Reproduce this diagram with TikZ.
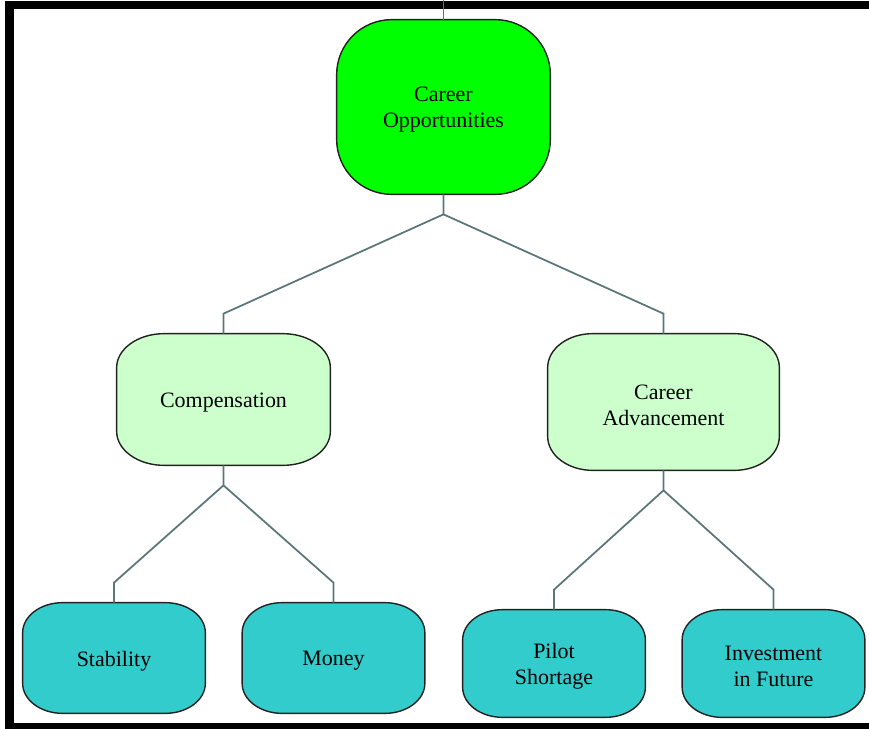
\documentclass[tikz,border=0pt]{standalone}
\usepackage{fontspec}
\setmainfont{Liberation Serif}
\usetikzlibrary{shapes,calc,backgrounds}
\definecolor{topgreen}{HTML}{00FF00}
\definecolor{midgreen}{HTML}{CCFFCC}
\definecolor{leafteal}{HTML}{33CCCC}
\definecolor{linkgray}{HTML}{5B7676}
\definecolor{edgeblack}{HTML}{222222}
% lower a line of text a little, keeping its box
\newcommand{\dn}[1]{\raisebox{-0.06cm}[\height][\depth]{#1}}
% box with elliptic corners round node #1: x radius #2, y radius #3, fill #4
\newcommand{\ovalbox}[4]{%
  \filldraw[draw=edgeblack,line width=0.8pt,fill=#4]
    ($(#1.north west)+(#2,0)$) -- ($(#1.north east)+(-#2,0)$)
    arc[start angle=90,end angle=0,x radius=#2,y radius=#3]
    -- ($(#1.south east)+(0,#3)$)
    arc[start angle=0,end angle=-90,x radius=#2,y radius=#3]
    -- ($(#1.south west)+(#2,0)$)
    arc[start angle=270,end angle=180,x radius=#2,y radius=#3]
    -- ($(#1.north west)+(0,-#3)$)
    arc[start angle=180,end angle=90,x radius=#2,y radius=#3] -- cycle;}

\begin{document}
\begin{tikzpicture}[
  box/.style={rectangle,align=center,font=\fontsize{12.5}{14.8}\selectfont},
  link/.style={linkgray,line width=1pt}]
\useasboundingbox (0,0) rectangle (17.38,-14.58);
% frame
\fill[black] (0.10,-0.02) rectangle (17.38,-0.18);
\fill[black] (0.10,-0.02) rectangle (0.28,-14.58);
\fill[black] (0.10,-14.46) rectangle (17.38,-14.58);
% nodes
\node[box,minimum width=4.26cm,minimum height=3.48cm] (CO) at (8.87,-2.14) {\dn{Career}\\\dn{Opportunities}};
\node[box,minimum width=4.26cm,minimum height=2.62cm] (CMP) at (4.47,-7.99) {\dn{Compensation}};
\node[box,minimum width=4.62cm,minimum height=2.72cm] (ADV) at (13.27,-8.04) {\dn{Career}\\\dn{Advancement}};
\node[box,minimum width=3.64cm,minimum height=2.2cm] (STB) at (2.28,-13.16) {\dn{Stability}};
\node[box,minimum width=3.64cm,minimum height=2.2cm] (MON) at (6.67,-13.16) {\dn{Money}};
\node[box,minimum width=3.64cm,minimum height=2.14cm] (PIL) at (11.08,-13.27) {\dn{Pilot}\\\dn{Shortage}};
\node[box,minimum width=3.64cm,minimum height=2.14cm] (INV) at (15.47,-13.27) {\dn{Investment}\\\dn{in Future}};
\begin{pgfonlayer}{background}
  \ovalbox{CO}{1.1}{1.1}{topgreen}
  \ovalbox{CMP}{0.95}{0.68}{midgreen}
  \ovalbox{ADV}{0.9}{0.68}{midgreen}
  \foreach\n in {STB,MON,PIL,INV} {
    \ovalbox{\n}{0.8}{0.6}{leafteal}
  }
\end{pgfonlayer}
% connectors
\coordinate (TOP) at (CO.north |- 0,0);
\coordinate (J0) at ($(CO.south)+(0,-0.4)$);
\coordinate (J1) at ($(CMP.south)+(0,-0.4)$);
\coordinate (J2) at ($(ADV.south)+(0,-0.4)$);
\draw[link] (TOP) -- (CO.north);
\draw[link] (CO.south) -- (J0) -- ($(CMP.north)+(0,0.4)$) -- (CMP.north);
\draw[link] (J0) -- ($(ADV.north)+(0,0.4)$) -- (ADV.north);
\draw[link] (CMP.south) -- (J1) -- ($(STB.north)+(0,0.4)$) -- (STB.north);
\draw[link] (J1) -- ($(MON.north)+(0,0.4)$) -- (MON.north);
\draw[link] (ADV.south) -- (J2) -- ($(PIL.north)+(0,0.4)$) -- (PIL.north);
\draw[link] (J2) -- ($(INV.north)+(0,0.4)$) -- (INV.north);
\end{tikzpicture}
\end{document}
